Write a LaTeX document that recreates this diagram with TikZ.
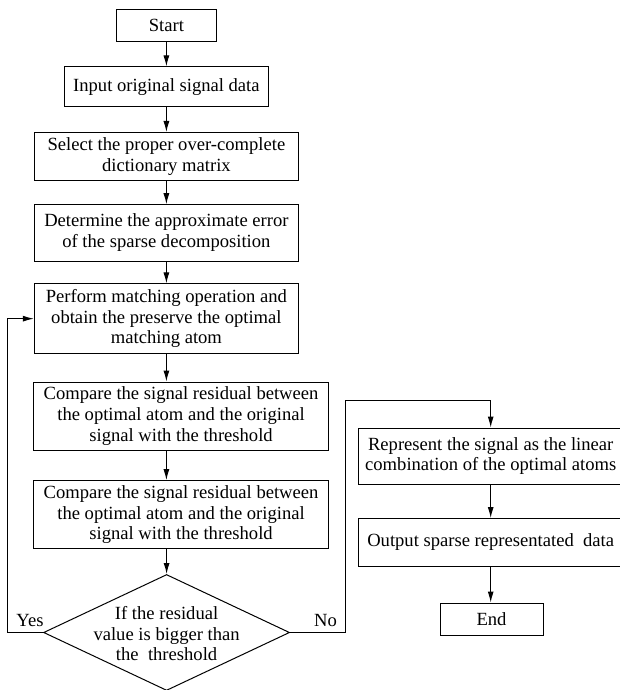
\documentclass[tikz,border=0pt]{standalone}
\usepackage{fontspec}
\setmainfont{Liberation Serif}
\usetikzlibrary{shapes.geometric,arrows.meta}
\begin{document}
\begin{tikzpicture}[x=1pt,y=1pt,
  box/.style={draw,line width=1pt,rectangle,inner sep=0pt,align=center,
    font=\fontsize{18.6}{20.7}\selectfont},
  txt/.style={inner sep=0pt,align=center,font=\fontsize{18.6}{20.7}\selectfont},
  arr/.style={line width=1pt,-{Latex[length=11pt,width=6pt]}},
  ln/.style={line width=1pt}]
\useasboundingbox (0,0) rectangle (619,-690);
\node[box,minimum width=99.8pt,minimum height=32.1pt] (start) at (166.4,-25.75) {Start};
\node[box,minimum width=204.2pt,minimum height=39.6pt] (input) at (166.4,-86.7) {Input original signal data};
\node[box,minimum width=264.2pt,minimum height=48.4pt] (select) at (166.4,-156.7) {Select the proper over-complete\\dictionary matrix};
\node[box,minimum width=264.2pt,minimum height=56.3pt] (determine) at (166.4,-232.85) {Determine the approximate error\\of the sparse decomposition};
\node[box,minimum width=264.2pt,minimum height=69.5pt] (perform) at (166.4,-318.65) {Perform matching operation and\\obtain the preserve the optimal\\matching atom};
\node[box,minimum width=294.9pt,minimum height=68pt] (cmpa) at (181.05,-416) {Compare the signal residual between\\the optimal atom and the original\\signal with the threshold};
\node[box,minimum width=294.9pt,minimum height=68.2pt] (cmpb) at (181.05,-514.7) {Compare the signal residual between\\the optimal atom and the original\\signal with the threshold};
\node[draw,line width=1pt,diamond,inner sep=0pt,minimum width=246pt,minimum height=116pt] (dia) at (166.6,-632.5) {};
\node[txt] (diatext) at (166.6,-633.8) {If the residual\\value is bigger than\\the~ threshold};
\node[box,minimum width=264.5pt,minimum height=56pt] (repr) at (490.7,-456) {Represent the signal as the linear\\combination of the optimal atoms};
\node[box,minimum width=264.5pt,minimum height=48pt] (outp) at (490.7,-542.5) {Output sparse representated~ data};
\node[box,minimum width=103pt,minimum height=32pt] (endn) at (491.5,-619) {End};
\node[txt] (yes) at (30,-620.6) {Yes};
\node[txt] (no) at (325.6,-620.6) {No};
\coordinate (lx) at (7.9,-317);
\coordinate (rx) at (345.4,-400);
\draw[arr] (start) -- (input);
\draw[arr] (input) -- (select);
\draw[arr] (select) -- (determine);
\draw[arr] (determine) -- (perform);
\draw[arr] (perform.south) -- (perform.south |- cmpa.north);
\draw[arr] (cmpa.south -| perform.south) -- (cmpb.north -| perform.south);
\draw[arr] (cmpb.south -| dia.north) -- (dia.north);
\draw[arr] (dia.west) -| (lx |- perform.west) -- (perform.west);
\draw[arr] (dia.east) -| (rx) -| (repr.north);
\draw[arr] (repr.south) -- (outp.north);
\draw[arr] (outp.south -| repr.south) -- (endn.north -| repr.south);
\end{tikzpicture}
\end{document}
